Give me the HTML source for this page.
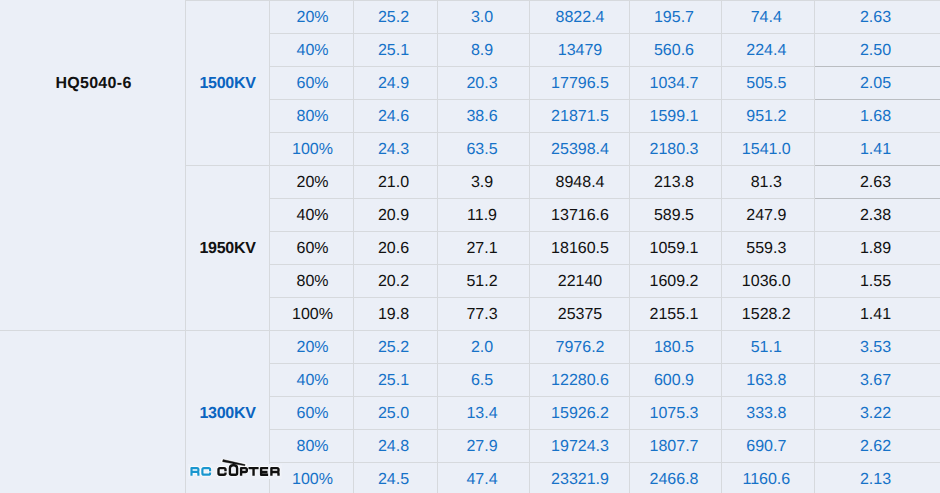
<!DOCTYPE html>
<html><head><meta charset="utf-8"><style>
html,body{margin:0;padding:0;}
body{width:940px;height:493px;overflow:hidden;background:#ebeff7;position:relative;font-family:"Liberation Sans",sans-serif;}
.h{position:absolute;height:1px;background:#d6d9dd;}
.hd{position:absolute;height:1px;background:#babdc1;}
.v{position:absolute;width:1px;top:0;height:493px;background:#d6d9dd;}
.t{position:absolute;height:32px;line-height:32px;text-align:center;font-size:16px;white-space:nowrap;text-rendering:geometricPrecision;}
.b{color:#1672c8;}
.k{color:#111;}
.bb{color:#0a64c0;font-weight:bold;letter-spacing:-0.3px;}
.kb{color:#111;font-weight:bold;letter-spacing:-0.3px;}
</style></head><body>

<div class="v" style="left:185px"></div>
<div class="v" style="left:269px"></div>
<div class="v" style="left:353px"></div>
<div class="v" style="left:437px"></div>
<div class="v" style="left:529px"></div>
<div class="v" style="left:629px"></div>
<div class="v" style="left:721px"></div>
<div class="v" style="left:814px"></div>
<div class="h" style="top:0px;left:185px;width:755px"></div>
<div class="h" style="top:33px;left:269px;width:671px"></div>
<div class="h" style="top:66px;left:269px;width:671px"></div>
<div class="h" style="top:99px;left:269px;width:671px"></div>
<div class="h" style="top:132px;left:269px;width:671px"></div>
<div class="h" style="top:165px;left:185px;width:755px"></div>
<div class="h" style="top:198px;left:269px;width:671px"></div>
<div class="h" style="top:231px;left:269px;width:671px"></div>
<div class="h" style="top:264px;left:269px;width:671px"></div>
<div class="h" style="top:297px;left:269px;width:671px"></div>
<div class="h" style="top:330px;left:0px;width:940px"></div>
<div class="h" style="top:363px;left:269px;width:671px"></div>
<div class="h" style="top:396px;left:269px;width:671px"></div>
<div class="h" style="top:429px;left:269px;width:671px"></div>
<div class="h" style="top:462px;left:269px;width:671px"></div>
<div class="hd" style="top:66px;left:815px;width:125px"></div>
<div class="hd" style="top:99px;left:815px;width:125px"></div>
<div class="hd" style="top:165px;left:815px;width:125px"></div>
<div class="hd" style="top:198px;left:815px;width:125px"></div>
<div class="t kb" style="left:1px;width:185px;top:67.5px;letter-spacing:0.3px">HQ5040-6</div>
<div class="t bb" style="left:186px;width:83px;top:67.5px">1500KV</div>
<div class="t b" style="left:271px;width:83px;top:1.5px">20%</div>
<div class="t b" style="left:352px;width:83px;top:1.5px">25.2</div>
<div class="t b" style="left:436.5px;width:91px;top:1.5px">3.0</div>
<div class="t b" style="left:530.5px;width:99px;top:1.5px">8822.4</div>
<div class="t b" style="left:628.5px;width:91px;top:1.5px">195.7</div>
<div class="t b" style="left:720.3px;width:92px;top:1.5px">74.4</div>
<div class="t b" style="left:815px;width:121px;top:1.5px">2.63</div>
<div class="t b" style="left:271px;width:83px;top:34.5px">40%</div>
<div class="t b" style="left:352px;width:83px;top:34.5px">25.1</div>
<div class="t b" style="left:436.5px;width:91px;top:34.5px">8.9</div>
<div class="t b" style="left:530.5px;width:99px;top:34.5px">13479</div>
<div class="t b" style="left:628.5px;width:91px;top:34.5px">560.6</div>
<div class="t b" style="left:720.3px;width:92px;top:34.5px">224.4</div>
<div class="t b" style="left:815px;width:121px;top:34.5px">2.50</div>
<div class="t b" style="left:271px;width:83px;top:67.5px">60%</div>
<div class="t b" style="left:352px;width:83px;top:67.5px">24.9</div>
<div class="t b" style="left:436.5px;width:91px;top:67.5px">20.3</div>
<div class="t b" style="left:530.5px;width:99px;top:67.5px">17796.5</div>
<div class="t b" style="left:628.5px;width:91px;top:67.5px">1034.7</div>
<div class="t b" style="left:720.3px;width:92px;top:67.5px">505.5</div>
<div class="t b" style="left:815px;width:121px;top:67.5px">2.05</div>
<div class="t b" style="left:271px;width:83px;top:100.5px">80%</div>
<div class="t b" style="left:352px;width:83px;top:100.5px">24.6</div>
<div class="t b" style="left:436.5px;width:91px;top:100.5px">38.6</div>
<div class="t b" style="left:530.5px;width:99px;top:100.5px">21871.5</div>
<div class="t b" style="left:628.5px;width:91px;top:100.5px">1599.1</div>
<div class="t b" style="left:720.3px;width:92px;top:100.5px">951.2</div>
<div class="t b" style="left:815px;width:121px;top:100.5px">1.68</div>
<div class="t b" style="left:271px;width:83px;top:133.5px">100%</div>
<div class="t b" style="left:352px;width:83px;top:133.5px">24.3</div>
<div class="t b" style="left:436.5px;width:91px;top:133.5px">63.5</div>
<div class="t b" style="left:530.5px;width:99px;top:133.5px">25398.4</div>
<div class="t b" style="left:628.5px;width:91px;top:133.5px">2180.3</div>
<div class="t b" style="left:720.3px;width:92px;top:133.5px">1541.0</div>
<div class="t b" style="left:815px;width:121px;top:133.5px">1.41</div>
<div class="t kb" style="left:186px;width:83px;top:232.5px">1950KV</div>
<div class="t k" style="left:271px;width:83px;top:166.5px">20%</div>
<div class="t k" style="left:352px;width:83px;top:166.5px">21.0</div>
<div class="t k" style="left:436.5px;width:91px;top:166.5px">3.9</div>
<div class="t k" style="left:530.5px;width:99px;top:166.5px">8948.4</div>
<div class="t k" style="left:628.5px;width:91px;top:166.5px">213.8</div>
<div class="t k" style="left:720.3px;width:92px;top:166.5px">81.3</div>
<div class="t k" style="left:815px;width:121px;top:166.5px">2.63</div>
<div class="t k" style="left:271px;width:83px;top:199.5px">40%</div>
<div class="t k" style="left:352px;width:83px;top:199.5px">20.9</div>
<div class="t k" style="left:436.5px;width:91px;top:199.5px">11.9</div>
<div class="t k" style="left:530.5px;width:99px;top:199.5px">13716.6</div>
<div class="t k" style="left:628.5px;width:91px;top:199.5px">589.5</div>
<div class="t k" style="left:720.3px;width:92px;top:199.5px">247.9</div>
<div class="t k" style="left:815px;width:121px;top:199.5px">2.38</div>
<div class="t k" style="left:271px;width:83px;top:232.5px">60%</div>
<div class="t k" style="left:352px;width:83px;top:232.5px">20.6</div>
<div class="t k" style="left:436.5px;width:91px;top:232.5px">27.1</div>
<div class="t k" style="left:530.5px;width:99px;top:232.5px">18160.5</div>
<div class="t k" style="left:628.5px;width:91px;top:232.5px">1059.1</div>
<div class="t k" style="left:720.3px;width:92px;top:232.5px">559.3</div>
<div class="t k" style="left:815px;width:121px;top:232.5px">1.89</div>
<div class="t k" style="left:271px;width:83px;top:265.5px">80%</div>
<div class="t k" style="left:352px;width:83px;top:265.5px">20.2</div>
<div class="t k" style="left:436.5px;width:91px;top:265.5px">51.2</div>
<div class="t k" style="left:530.5px;width:99px;top:265.5px">22140</div>
<div class="t k" style="left:628.5px;width:91px;top:265.5px">1609.2</div>
<div class="t k" style="left:720.3px;width:92px;top:265.5px">1036.0</div>
<div class="t k" style="left:815px;width:121px;top:265.5px">1.55</div>
<div class="t k" style="left:271px;width:83px;top:298.5px">100%</div>
<div class="t k" style="left:352px;width:83px;top:298.5px">19.8</div>
<div class="t k" style="left:436.5px;width:91px;top:298.5px">77.3</div>
<div class="t k" style="left:530.5px;width:99px;top:298.5px">25375</div>
<div class="t k" style="left:628.5px;width:91px;top:298.5px">2155.1</div>
<div class="t k" style="left:720.3px;width:92px;top:298.5px">1528.2</div>
<div class="t k" style="left:815px;width:121px;top:298.5px">1.41</div>
<div class="t bb" style="left:186px;width:83px;top:397.5px">1300KV</div>
<div class="t b" style="left:271px;width:83px;top:331.5px">20%</div>
<div class="t b" style="left:352px;width:83px;top:331.5px">25.2</div>
<div class="t b" style="left:436.5px;width:91px;top:331.5px">2.0</div>
<div class="t b" style="left:530.5px;width:99px;top:331.5px">7976.2</div>
<div class="t b" style="left:628.5px;width:91px;top:331.5px">180.5</div>
<div class="t b" style="left:720.3px;width:92px;top:331.5px">51.1</div>
<div class="t b" style="left:815px;width:121px;top:331.5px">3.53</div>
<div class="t b" style="left:271px;width:83px;top:364.5px">40%</div>
<div class="t b" style="left:352px;width:83px;top:364.5px">25.1</div>
<div class="t b" style="left:436.5px;width:91px;top:364.5px">6.5</div>
<div class="t b" style="left:530.5px;width:99px;top:364.5px">12280.6</div>
<div class="t b" style="left:628.5px;width:91px;top:364.5px">600.9</div>
<div class="t b" style="left:720.3px;width:92px;top:364.5px">163.8</div>
<div class="t b" style="left:815px;width:121px;top:364.5px">3.67</div>
<div class="t b" style="left:271px;width:83px;top:397.5px">60%</div>
<div class="t b" style="left:352px;width:83px;top:397.5px">25.0</div>
<div class="t b" style="left:436.5px;width:91px;top:397.5px">13.4</div>
<div class="t b" style="left:530.5px;width:99px;top:397.5px">15926.2</div>
<div class="t b" style="left:628.5px;width:91px;top:397.5px">1075.3</div>
<div class="t b" style="left:720.3px;width:92px;top:397.5px">333.8</div>
<div class="t b" style="left:815px;width:121px;top:397.5px">3.22</div>
<div class="t b" style="left:271px;width:83px;top:430.5px">80%</div>
<div class="t b" style="left:352px;width:83px;top:430.5px">24.8</div>
<div class="t b" style="left:436.5px;width:91px;top:430.5px">27.9</div>
<div class="t b" style="left:530.5px;width:99px;top:430.5px">19724.3</div>
<div class="t b" style="left:628.5px;width:91px;top:430.5px">1807.7</div>
<div class="t b" style="left:720.3px;width:92px;top:430.5px">690.7</div>
<div class="t b" style="left:815px;width:121px;top:430.5px">2.62</div>
<div class="t b" style="left:271px;width:83px;top:463.5px">100%</div>
<div class="t b" style="left:352px;width:83px;top:463.5px">24.5</div>
<div class="t b" style="left:436.5px;width:91px;top:463.5px">47.4</div>
<div class="t b" style="left:530.5px;width:99px;top:463.5px">23321.9</div>
<div class="t b" style="left:628.5px;width:91px;top:463.5px">2466.8</div>
<div class="t b" style="left:720.3px;width:92px;top:463.5px">1160.6</div>
<div class="t b" style="left:815px;width:121px;top:463.5px">2.13</div>
<div style="position:absolute;left:188px;top:464px;width:94px;height:15px;background:#eef1f8"></div>
<svg style="position:absolute;left:0;top:0" width="940" height="493" viewBox="0 0 940 493">
<g fill="none" stroke-linejoin="round">
<path d="M210.10,471.35 V469.60 Q210.10,468.10 208.60,468.10 H203.90 Q202.40,468.10 202.40,469.60 V473.20 Q202.40,474.70 203.90,474.70 H208.60 Q210.10,474.70 210.10,473.20 V472.55 M191.50,475.80 V468.10 H197.00 Q198.40,468.10 198.40,469.50 V470.55 Q198.40,471.95 197.00,471.95 H191.50 M196.80,471.95 Q198.40,471.95 198.40,473.55 V475.80" stroke="#fff" stroke-width="3.8000000000000003" opacity="0.9"/>
<path d="M225.50,471.35 V469.60 Q225.50,468.10 224.00,468.10 H220.00 Q218.50,468.10 218.50,469.60 V473.20 Q218.50,474.70 220.00,474.70 H224.00 Q225.50,474.70 225.50,473.20 V472.55 M229.90,473.20 V468.40 Q229.90,465.20 233.10,465.20 H233.90 Q237.10,465.20 237.10,468.40 V473.20 Q237.10,474.70 235.60,474.70 H231.40 Q229.90,474.70 229.90,473.20 Z M241.10,475.80 V468.10 H245.40 Q246.80,468.10 246.80,469.50 V470.55 Q246.80,471.95 245.40,471.95 H241.10 M248.50,468.10 H258.60 M253.55,468.10 V475.80 M268.10,468.10 H261.10 V474.70 H268.10 M261.10,471.95 H267.50 M271.40,475.80 V468.10 H277.10 Q278.50,468.10 278.50,469.50 V470.55 Q278.50,471.95 277.10,471.95 H271.40 M276.90,471.95 Q278.50,471.95 278.50,473.55 V475.80" stroke="#fff" stroke-width="3.8000000000000003" opacity="0.9"/>
<path d="M222.8,460.6 L245,465.2" stroke="#fff" stroke-width="3.8" stroke-linecap="round"/>
<path d="M210.10,471.35 V469.60 Q210.10,468.10 208.60,468.10 H203.90 Q202.40,468.10 202.40,469.60 V473.20 Q202.40,474.70 203.90,474.70 H208.60 Q210.10,474.70 210.10,473.20 V472.55 M191.50,475.80 V468.10 H197.00 Q198.40,468.10 198.40,469.50 V470.55 Q198.40,471.95 197.00,471.95 H191.50 M196.80,471.95 Q198.40,471.95 198.40,473.55 V475.80" stroke="#1a96cf" stroke-width="2.2"/>
<path d="M225.50,471.35 V469.60 Q225.50,468.10 224.00,468.10 H220.00 Q218.50,468.10 218.50,469.60 V473.20 Q218.50,474.70 220.00,474.70 H224.00 Q225.50,474.70 225.50,473.20 V472.55 M229.90,473.20 V468.40 Q229.90,465.20 233.10,465.20 H233.90 Q237.10,465.20 237.10,468.40 V473.20 Q237.10,474.70 235.60,474.70 H231.40 Q229.90,474.70 229.90,473.20 Z M241.10,475.80 V468.10 H245.40 Q246.80,468.10 246.80,469.50 V470.55 Q246.80,471.95 245.40,471.95 H241.10 M248.50,468.10 H258.60 M253.55,468.10 V475.80 M268.10,468.10 H261.10 V474.70 H268.10 M261.10,471.95 H267.50 M271.40,475.80 V468.10 H277.10 Q278.50,468.10 278.50,469.50 V470.55 Q278.50,471.95 277.10,471.95 H271.40 M276.90,471.95 Q278.50,471.95 278.50,473.55 V475.80" stroke="#111" stroke-width="2.4000000000000004"/>
<path d="M223.04,459.53 L245.14,464.57 L244.86,465.83 L222.56,461.67 Z" fill="#111" stroke="#111" stroke-width="0.4"/>
<path d="M233.6,462.5 V466" stroke="#111" stroke-width="1.8"/>
</g>
</svg>
</body></html>
